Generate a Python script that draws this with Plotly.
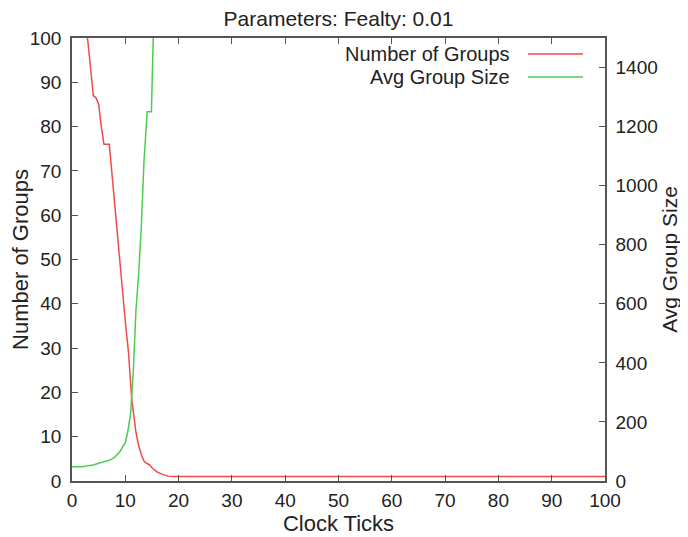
import plotly.graph_objects as go

# Clock ticks and values
groups_x = [0, 1, 2, 3, 3.5, 4, 4.5, 5, 5.5, 6, 7, 7.3, 8, 8.5, 9, 10, 10.6, 11.2, 12, 12.5,
            13, 13.5, 14, 14.6, 15, 16, 17, 18, 19, 20, 30, 40, 50, 60, 70, 80, 90, 100]
num_groups = [125, 115, 108, 99, 93, 87, 86.5, 85, 80, 76, 76, 72, 62, 56, 48, 36, 29, 18.5, 11, 8,
              6, 4.5, 4, 3.6, 3, 2, 1.5, 1.1, 1, 1, 1, 1, 1, 1, 1, 1, 1, 1]

size_x = [0, 1, 2, 3, 4, 5, 6, 7, 8, 9, 10, 10.5, 11, 11.5, 12, 12.5, 13, 13.5, 14, 14.1,
          14.9, 15.1, 15.3, 16, 18, 20, 30, 40, 50, 60, 70, 80, 90, 100]
avg_size = [48, 48, 48, 52, 54, 60, 65, 70, 80, 100, 130, 170, 230, 370, 580, 700, 860, 1080, 1220, 1250,
            1250, 1400, 1500, 1800, 5000, 5000, 5000, 5000, 5000, 5000, 5000, 5000, 5000, 5000]

x_ticks = list(range(0, 101, 10))
y_ticks = list(range(0, 101, 10))
y2_ticks = list(range(0, 1401, 200))

RED = "#f04a4a"
GREEN = "#4ccc4c"
FRAME = "#555555"
TXT = "#222222"
FONT = "Liberation Sans, Arial, sans-serif"

# page body adds an 8px offset; figure is sized to fill the rest of the window
W, H = 680, 529
ML, MR, MT, MB = 64, 83, 30, 56
PW, PH = W - ML - MR, H - MT - MB

fig = go.Figure()
fig.add_trace(go.Scatter(x=groups_x, y=num_groups, mode="lines", name="Number of Groups",
                         line=dict(color=RED, width=1.5), showlegend=False))
fig.add_trace(go.Scatter(x=size_x, y=avg_size, mode="lines", name="Avg Group Size", yaxis="y2",
                         line=dict(color=GREEN, width=1.5), showlegend=False))

# legend-like labels (text on the left, line sample on the right, gnuplot style)
legend_items = [("Number of Groups", RED, 16), ("Avg Group Size", GREEN, 39)]
for label, col, dy in legend_items:
    yp = 1 - dy / PH
    fig.add_annotation(text=label, xref="paper", yref="paper", x=440 / PW, y=yp,
                       xanchor="right", yanchor="middle", showarrow=False,
                       font=dict(size=20, color=TXT, family=FONT))
    fig.add_shape(type="line", xref="paper", yref="paper",
                  x0=456 / PW, x1=511 / PW, y0=yp, y1=yp,
                  line=dict(color=col, width=1.5))

axis_common = dict(showgrid=False, zeroline=False, showline=True, linecolor=FRAME, linewidth=1.5,
                   ticks="inside", ticklen=6, tickcolor=FRAME, tickwidth=1, automargin=False,
                   tickfont=dict(size=19, color=TXT, family=FONT))

fig.update_layout(
    width=W, height=H,
    margin=dict(l=ML, r=MR, t=MT, b=MB),
    paper_bgcolor="white", plot_bgcolor="white",
    font=dict(family=FONT, color=TXT),
    title=dict(text="Parameters: Fealty: 0.01", x=0.5, xref="paper", xanchor="center",
               y=1 - 11 / H, yref="container", yanchor="middle",
               font=dict(size=21, color=TXT, family=FONT)),
    xaxis=dict(range=[0, 100], tickvals=x_ticks, mirror="ticks", ticklabelstandoff=1,
               title=dict(text="Clock Ticks", font=dict(size=22, family=FONT), standoff=4),
               **axis_common),
    yaxis=dict(range=[0, 100], tickvals=y_ticks, mirror=True, ticklabelstandoff=5,
               title=dict(text="Number of Groups", font=dict(size=22, family=FONT), standoff=2),
               **axis_common),
    yaxis2=dict(range=[0, 1500], tickvals=y2_ticks, overlaying="y", side="right", ticklabelstandoff=5,
                title=dict(text="Avg Group Size", font=dict(size=21, family=FONT), standoff=4),
                **axis_common),
)

fig.write_html("out.html")
